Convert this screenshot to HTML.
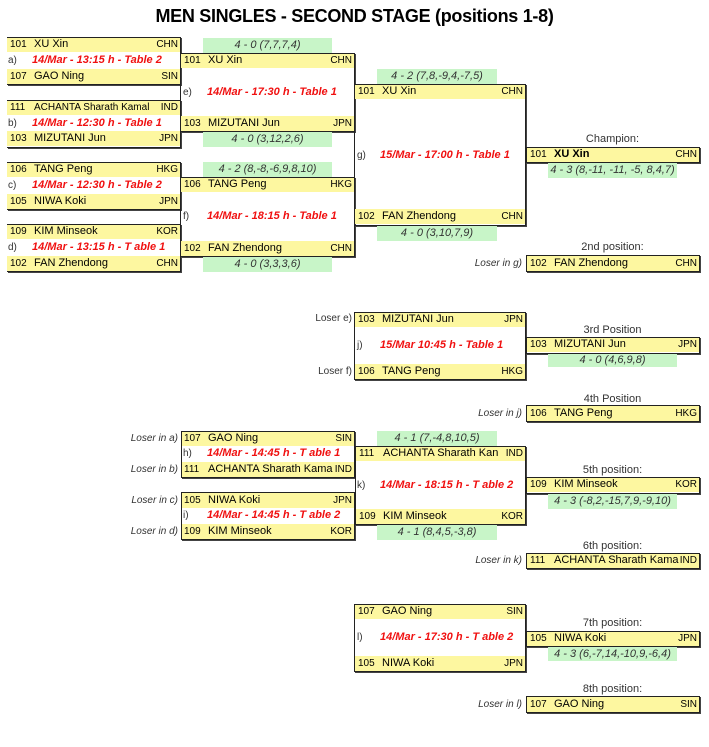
<!DOCTYPE html>
<html><head><meta charset="utf-8"><style>
body{margin:0;width:709px;height:747px;background:#fff;position:relative;overflow:hidden;font-family:"Liberation Sans",Arial,sans-serif;}
div{position:absolute;box-sizing:border-box;}
.t{left:0;width:709px;top:6px;text-align:center;font-weight:bold;font-size:18px;letter-spacing:-0.3px;}
.r{height:15px;background:#fdf7a0;font-size:11px;line-height:15px;white-space:nowrap;overflow:hidden;}
.r .n{position:absolute;left:3px;font-size:10px;}
.r .m{position:absolute;left:27px;}
.r .c{position:absolute;right:2px;font-size:10px;background:#fdf7a0;padding-left:1px;}
.b{border:1px solid #222;box-shadow:1px 1px 0 #444;}
.bl{border-left:none;}
.g{height:15px;background:#c8f5c8;font-size:11px;line-height:15px;text-align:center;font-style:italic;color:#333;}
.red{color:#f01010;font-weight:bold;font-style:italic;font-size:11px;line-height:15px;white-space:nowrap;}
.lb{font-size:10px;line-height:15px;color:#333;}
.lo{font-size:10px;line-height:15px;font-style:italic;color:#333;text-align:right;width:120px;}
.lo2{font-size:10px;line-height:15px;color:#333;text-align:right;width:120px;}
.pl{font-size:11px;line-height:13px;color:#333;text-align:center;width:173px;left:526px;}
</style></head><body>
<div class="t">MEN SINGLES - SECOND STAGE (positions 1-8)</div>

<!-- a -->
<div class="r" style="left:7px;top:37px;width:173px"><span class="n">101</span><span class="m">XU Xin</span><span class="c">CHN</span></div>
<div class="lb" style="left:8px;top:53px">a)</div><div class="red" style="left:32px;top:53px">14/Mar - 13:15 h - Table 2</div>
<div class="r" style="left:7px;top:69px;width:173px"><span class="n">107</span><span class="m">GAO Ning</span><span class="c">SIN</span></div>
<div class="b bl" style="left:7px;top:37px;width:174px;height:48px"></div>
<!-- b -->
<div class="r" style="left:7px;top:100px;width:173px"><span class="n">111</span><span class="m" style="font-size:10px">ACHANTA Sharath Kamal</span><span class="c">IND</span></div>
<div class="lb" style="left:8px;top:116px">b)</div><div class="red" style="left:32px;top:116px">14/Mar - 12:30 h - Table 1</div>
<div class="r" style="left:7px;top:131px;width:173px"><span class="n">103</span><span class="m">MIZUTANI Jun</span><span class="c">JPN</span></div>
<div class="b bl" style="left:7px;top:100px;width:174px;height:48px"></div>
<!-- c -->
<div class="r" style="left:7px;top:162px;width:173px"><span class="n">106</span><span class="m">TANG Peng</span><span class="c">HKG</span></div>
<div class="lb" style="left:8px;top:178px">c)</div><div class="red" style="left:32px;top:178px">14/Mar - 12:30 h - Table 2</div>
<div class="r" style="left:7px;top:194px;width:173px"><span class="n">105</span><span class="m">NIWA Koki</span><span class="c">JPN</span></div>
<div class="b bl" style="left:7px;top:162px;width:174px;height:48px"></div>
<!-- d -->
<div class="r" style="left:7px;top:224px;width:173px"><span class="n">109</span><span class="m">KIM Minseok</span><span class="c">KOR</span></div>
<div class="lb" style="left:8px;top:240px">d)</div><div class="red" style="left:32px;top:240px">14/Mar - 13:15 h - T able 1</div>
<div class="r" style="left:7px;top:256px;width:173px"><span class="n">102</span><span class="m">FAN Zhendong</span><span class="c">CHN</span></div>
<div class="b bl" style="left:7px;top:224px;width:174px;height:48px"></div>

<!-- e -->
<div class="g" style="left:203px;top:38px;width:129px">4 - 0 (7,7,7,4)</div>
<div class="r" style="left:181px;top:53px;width:173px"><span class="n">101</span><span class="m">XU Xin</span><span class="c">CHN</span></div>
<div class="lb" style="left:183px;top:85px">e)</div><div class="red" style="left:207px;top:85px">14/Mar - 17:30 h - Table 1</div>
<div class="r" style="left:181px;top:116px;width:173px"><span class="n">103</span><span class="m">MIZUTANI Jun</span><span class="c">JPN</span></div>
<div class="b" style="left:180px;top:53px;width:175px;height:79px"></div>
<div class="g" style="left:203px;top:132px;width:129px">4 - 0 (3,12,2,6)</div>
<!-- f -->
<div class="g" style="left:203px;top:162px;width:129px">4 - 2 (8,-8,-6,9,8,10)</div>
<div class="r" style="left:181px;top:177px;width:173px"><span class="n">106</span><span class="m">TANG Peng</span><span class="c">HKG</span></div>
<div class="lb" style="left:183px;top:209px">f)</div><div class="red" style="left:207px;top:209px">14/Mar - 18:15 h - Table 1</div>
<div class="r" style="left:181px;top:241px;width:173px"><span class="n">102</span><span class="m">FAN Zhendong</span><span class="c">CHN</span></div>
<div class="b" style="left:180px;top:177px;width:175px;height:80px"></div>
<div class="g" style="left:203px;top:257px;width:129px">4 - 0 (3,3,3,6)</div>

<!-- g -->
<div class="g" style="left:377px;top:69px;width:120px">4 - 2 (7,8,-9,4,-7,5)</div>
<div class="r" style="left:355px;top:84px;width:170px"><span class="n">101</span><span class="m">XU Xin</span><span class="c">CHN</span></div>
<div class="lb" style="left:357px;top:148px">g)</div><div class="red" style="left:380px;top:148px">15/Mar - 17:00 h - Table 1</div>
<div class="r" style="left:355px;top:209px;width:170px"><span class="n">102</span><span class="m">FAN Zhendong</span><span class="c">CHN</span></div>
<div class="b" style="left:354px;top:84px;width:172px;height:142px"></div>
<div class="g" style="left:377px;top:226px;width:120px">4 - 0 (3,10,7,9)</div>

<div class="pl" style="top:133px">Champion:</div>
<div class="r" style="left:527px;top:147px;width:172px"><span class="n">101</span><span class="m" style="font-weight:bold">XU Xin</span><span class="c">CHN</span></div>
<div class="b" style="left:526px;top:147px;width:174px;height:16px"></div>
<div class="g" style="left:548px;top:163px;width:129px">4 - 3 (8,-11, -11, -5, 8,4,7)</div>

<div class="pl" style="top:241px">2nd position:</div>
<div class="lo" style="left:402px;top:256px">Loser in g)</div>
<div class="r" style="left:527px;top:256px;width:172px"><span class="n">102</span><span class="m">FAN Zhendong</span><span class="c">CHN</span></div>
<div class="b" style="left:526px;top:255px;width:174px;height:17px"></div>

<!-- j -->
<div class="lo2" style="left:232px;top:311px">Loser e)</div>
<div class="r" style="left:355px;top:312px;width:170px"><span class="n">103</span><span class="m">MIZUTANI Jun</span><span class="c">JPN</span></div>
<div class="lb" style="left:357px;top:338px">j)</div><div class="red" style="left:380px;top:338px">15/Mar 10:45 h - Table 1</div>
<div class="lo2" style="left:232px;top:364px">Loser f)</div>
<div class="r" style="left:355px;top:364px;width:170px"><span class="n">106</span><span class="m">TANG Peng</span><span class="c">HKG</span></div>
<div class="b" style="left:354px;top:312px;width:172px;height:68px"></div>

<div class="pl" style="top:324px">3rd Position</div>
<div class="r" style="left:527px;top:337px;width:172px"><span class="n">103</span><span class="m">MIZUTANI Jun</span><span class="c">JPN</span></div>
<div class="b" style="left:526px;top:337px;width:174px;height:17px"></div>
<div class="g" style="left:548px;top:354px;width:129px;height:13px;line-height:13px">4 - 0 (4,6,9,8)</div>

<div class="pl" style="top:393px">4th Position</div>
<div class="lo" style="left:402px;top:406px">Loser in j)</div>
<div class="r" style="left:527px;top:406px;width:172px"><span class="n">106</span><span class="m">TANG Peng</span><span class="c">HKG</span></div>
<div class="b" style="left:526px;top:405px;width:174px;height:17px"></div>

<!-- h -->
<div class="lo" style="left:58px;top:431px">Loser in a)</div>
<div class="r" style="left:181px;top:431px;width:173px"><span class="n">107</span><span class="m">GAO Ning</span><span class="c">SIN</span></div>
<div class="lb" style="left:183px;top:446px">h)</div><div class="red" style="left:207px;top:446px">14/Mar - 14:45 h - T able 1</div>
<div class="lo" style="left:58px;top:462px">Loser in b)</div>
<div class="r" style="left:181px;top:462px;width:173px"><span class="n">111</span><span class="m">ACHANTA Sharath Kama</span><span class="c">IND</span></div>
<div class="b" style="left:181px;top:431px;width:174px;height:47px"></div>
<!-- i -->
<div class="lo" style="left:58px;top:493px">Loser in c)</div>
<div class="r" style="left:181px;top:493px;width:173px"><span class="n">105</span><span class="m">NIWA Koki</span><span class="c">JPN</span></div>
<div class="lb" style="left:183px;top:508px">i)</div><div class="red" style="left:207px;top:508px">14/Mar - 14:45 h - T able 2</div>
<div class="lo" style="left:58px;top:524px">Loser in d)</div>
<div class="r" style="left:181px;top:524px;width:173px"><span class="n">109</span><span class="m">KIM Minseok</span><span class="c">KOR</span></div>
<div class="b" style="left:181px;top:492px;width:174px;height:48px"></div>

<!-- k -->
<div class="g" style="left:377px;top:431px;width:120px">4 - 1 (7,-4,8,10,5)</div>
<div class="r" style="left:356px;top:446px;width:169px"><span class="n">111</span><span class="m">ACHANTA Sharath Kan</span><span class="c">IND</span></div>
<div class="lb" style="left:357px;top:478px">k)</div><div class="red" style="left:380px;top:478px">14/Mar - 18:15 h - T able 2</div>
<div class="r" style="left:356px;top:509px;width:169px"><span class="n">109</span><span class="m">KIM Minseok</span><span class="c">KOR</span></div>
<div class="b" style="left:355px;top:446px;width:171px;height:79px"></div>
<div class="g" style="left:377px;top:525px;width:120px">4 - 1 (8,4,5,-3,8)</div>

<div class="pl" style="top:464px">5th position:</div>
<div class="r" style="left:527px;top:477px;width:172px"><span class="n">109</span><span class="m">KIM Minseok</span><span class="c">KOR</span></div>
<div class="b" style="left:526px;top:477px;width:174px;height:17px"></div>
<div class="g" style="left:548px;top:494px;width:129px">4 - 3 (-8,2,-15,7,9,-9,10)</div>

<div class="pl" style="top:540px">6th position:</div>
<div class="lo" style="left:402px;top:553px">Loser in k)</div>
<div class="r" style="left:527px;top:553px;width:172px"><span class="n">111</span><span class="m">ACHANTA Sharath Kama</span><span class="c">IND</span></div>
<div class="b" style="left:526px;top:553px;width:174px;height:16px"></div>

<!-- l -->
<div class="r" style="left:355px;top:604px;width:170px"><span class="n">107</span><span class="m">GAO Ning</span><span class="c">SIN</span></div>
<div class="lb" style="left:357px;top:630px">l)</div><div class="red" style="left:380px;top:630px">14/Mar - 17:30 h - T able 2</div>
<div class="r" style="left:355px;top:656px;width:170px"><span class="n">105</span><span class="m">NIWA Koki</span><span class="c">JPN</span></div>
<div class="b" style="left:354px;top:604px;width:172px;height:68px"></div>

<div class="pl" style="top:617px">7th position:</div>
<div class="r" style="left:527px;top:631px;width:172px"><span class="n">105</span><span class="m">NIWA Koki</span><span class="c">JPN</span></div>
<div class="b" style="left:526px;top:631px;width:174px;height:16px"></div>
<div class="g" style="left:548px;top:647px;width:129px;height:14px;line-height:14px">4 - 3 (6,-7,14,-10,9,-6,4)</div>

<div class="pl" style="top:683px">8th position:</div>
<div class="lo" style="left:402px;top:697px">Loser in l)</div>
<div class="r" style="left:527px;top:697px;width:172px"><span class="n">107</span><span class="m">GAO Ning</span><span class="c">SIN</span></div>
<div class="b" style="left:526px;top:696px;width:174px;height:17px"></div>
</body></html>
